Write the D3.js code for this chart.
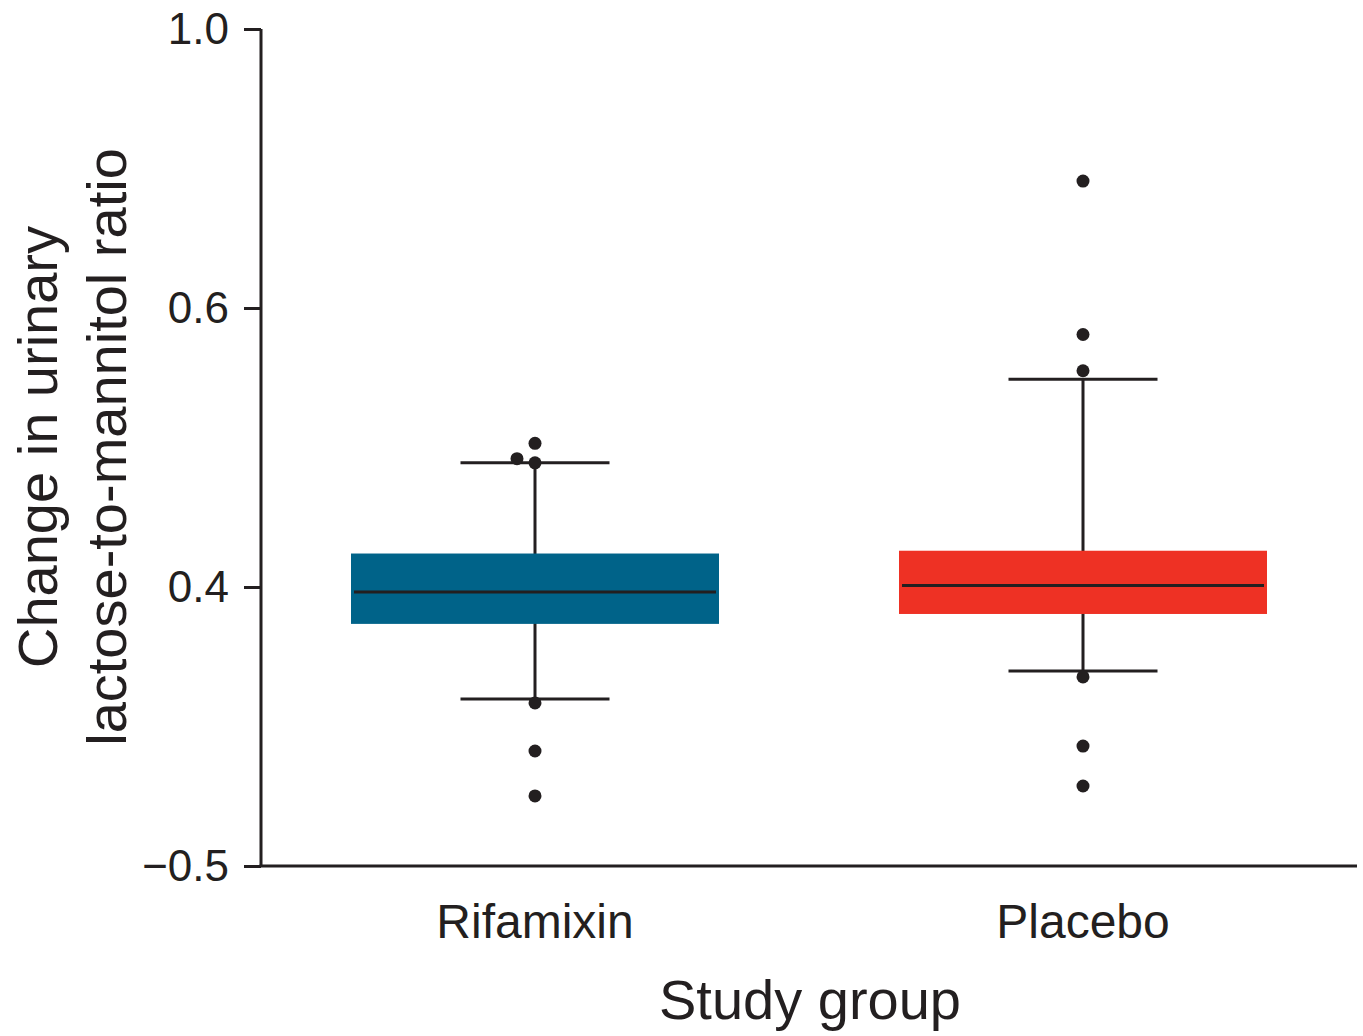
<!DOCTYPE html>
<html><head><meta charset="utf-8">
<script src="https://cdn.jsdelivr.net/npm/d3@7"></script>
<style>body{margin:0;background:#fff}text{font-family:"Liberation Sans",Arial,Helvetica,sans-serif;fill:#231f20}</style>
</head><body><svg id="c" width="1363" height="1036"></svg>
<script>
const categories = ["Rifamixin", "Placebo"];
const colors = ["#006389", "#ee3124"];
const q1 = [0.281, 0.313];
const median = [0.384, 0.401];
const q3 = [0.424, 0.426];
const whiskerLow = [0.039, 0.129];
const whiskerHigh = [0.489, 0.549];
const outliersRif = [0.503, 0.492, 0.489, 0.026, -0.129, -0.274];
const outliersPla = [0.782, 0.581, 0.555, 0.110, -0.113, -0.242];
const outlierDodge = [[0, -1, 0, 0, 0, 0], [0, 0, 0, 0, 0, 0]];
const yTicks = [-0.5, 0.4, 0.6, 1.0];
const yTickLabels = ["\u22120.5", "0.4", "0.6", "1.0"];

const svg = d3.select("#c");
const y = d3.scaleLinear().domain(yTicks).range([866, 587, 308, 29]);
const x = d3.scalePoint().domain(categories).range([261, 1357]).padding(0.5);

const ink = "#231f20";
const yAxis = d3.axisLeft(y).tickValues(yTicks).tickFormat((d, i) => yTickLabels[i]).tickSize(17).tickPadding(15);
const gy = svg.append("g").attr("transform", "translate(261,0)").call(yAxis);
gy.select(".domain").attr("stroke", ink).attr("stroke-width", 3).attr("d", "M0,29V866");
gy.selectAll(".tick line").attr("stroke", ink).attr("stroke-width", 3);
gy.selectAll(".tick text").attr("font-size", 44).style("font-family", '"Liberation Sans",Arial,sans-serif').attr("fill", ink);

svg.append("line").attr("x1", 259.5).attr("x2", 1357).attr("y1", y(-0.5)).attr("y2", y(-0.5)).attr("stroke", ink).attr("stroke-width", 3);

const boxW = 368, capW = 149, medW = 362;
const outliers = [outliersRif, outliersPla];
categories.forEach((c, i) => {
  const cx = x(c);
  const g = svg.append("g");
  g.append("line").attr("x1", cx).attr("x2", cx).attr("y1", y(whiskerHigh[i])).attr("y2", y(whiskerLow[i])).attr("stroke", ink).attr("stroke-width", 3);
  [whiskerHigh[i], whiskerLow[i]].forEach(v => {
    g.append("line").attr("x1", cx - capW / 2).attr("x2", cx + capW / 2).attr("y1", y(v)).attr("y2", y(v)).attr("stroke", ink).attr("stroke-width", 3);
  });
  g.append("rect").attr("x", cx - boxW / 2).attr("width", boxW).attr("y", y(q3[i])).attr("height", y(q1[i]) - y(q3[i])).attr("fill", colors[i]);
  g.append("line").attr("x1", cx - medW / 2).attr("x2", cx + medW / 2).attr("y1", y(median[i])).attr("y2", y(median[i])).attr("stroke", ink).attr("stroke-width", 3);
  g.selectAll("circle").data(outliers[i]).join("circle")
    .attr("cx", (d, j) => cx + outlierDodge[i][j] * 18).attr("cy", d => y(d)).attr("r", 6.5).attr("fill", ink);
  svg.append("text").attr("x", cx).attr("y", 938).attr("text-anchor", "middle").attr("font-size", 48).text(c);
});

svg.append("text").attr("x", 810).attr("y", 1019).attr("text-anchor", "middle").attr("font-size", 56).text("Study group");
const yt = svg.append("text").attr("transform", "translate(0,447) rotate(-90)").attr("text-anchor", "middle").attr("font-size", 56);
yt.append("tspan").attr("x", 0).attr("y", 57).text("Change in urinary");
yt.append("tspan").attr("x", 0).attr("y", 126).text("lactose-to-mannitol ratio");
</script></body></html>
